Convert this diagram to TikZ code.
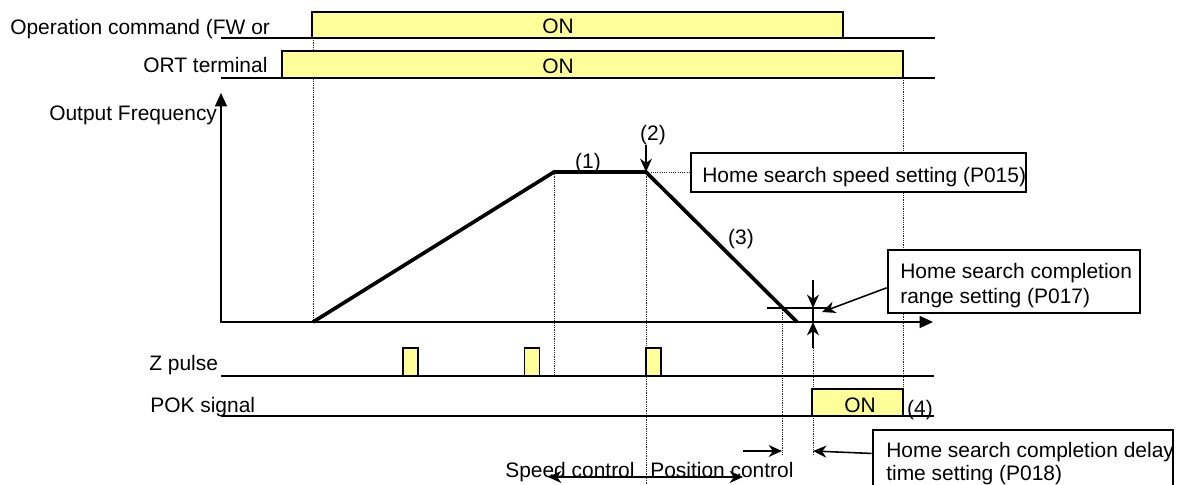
\documentclass[tikz,border=0pt]{standalone}
\usepackage{fontspec}
\setmainfont{Liberation Sans}
\usetikzlibrary{arrows.meta}
\definecolor{onyellow}{RGB}{255,255,153}
\tikzset{
 sigline/.style={line width=1.1pt},
 onbox/.style={draw=black, fill=onyellow, line width=1.1pt},
 guide/.style={line width=0.5pt, dash pattern=on 0.8pt off 0.8pt, draw=black!85},
 profile/.style={line width=2.6pt, line join=miter},
 axisline/.style={line width=1.1pt, {Triangle[length=9.5pt,width=8.5pt]}-{Triangle[length=9.5pt,width=8.5pt]}},
 setbox/.style={rectangle, draw=black, fill=white, line width=1.9pt, inner sep=0pt},
 markarrow/.style={line width=1.1pt, -{Stealth[length=9.5pt,width=8.5pt,inset=3pt]}},
 twoarrow/.style={line width=1.1pt, {Stealth[length=9.5pt,width=8.5pt,inset=3pt]}-{Stealth[length=9.5pt,width=8.5pt,inset=3pt]}},
 txt/.style={inner sep=0pt, anchor=base west},
 ontxt/.style={inner sep=0pt, anchor=base}
}

\begin{document}
\begin{tikzpicture}[x=0.025cm, y=-0.025cm, font=\fontsize{14.9pt}{17pt}\selectfont]
	\useasboundingbox (0,0) rectangle (1179,485);
	\clip (0,0) rectangle (1179,485);

	\coordinate (p0) at (313,322);
	\coordinate (p1) at (554,172);
	\coordinate (p2) at (646,172);
	\coordinate (p3) at (797,322);

	\draw[guide] (313,38) -- (p0);
	\draw[guide] (p1) -- (554,376);
	\draw[guide] (p2) -- (646,485);
	\draw[guide] (782,308) -- (782,456);
	\draw[guide] (813,348) -- (813,456);
	\draw[guide] (903,78) -- (903,389);
	\draw[guide] (p2) -- (691,172);

	\filldraw[onbox] (312,38) |- (843,12) -- (843,38);
	\filldraw[onbox] (282,78) |- (903,51) -- (903,78);
	\filldraw[onbox] (403,376) |- (418,348) -- (418,376);
	\filldraw[onbox] (524.5,376) |- (539.5,348) -- (539.5,376);
	\filldraw[onbox] (646,376) |- (661,348) -- (661,376);
	\filldraw[onbox] (812,416) |- (903,389) -- (903,416);

	\draw[sigline] (221,38) -- (935,38);
	\draw[sigline] (221,78) -- (935,78);
	\draw[sigline] (221,376) -- (934,376);
	\draw[sigline] (221,416) -- (934,416);

	\draw[axisline] (221,93) -- (221,322) -- (933,322);
	\draw[profile] (p0) -- (p1) -- (p2) -- (p3);

	\coordinate (peak) at (646,145);
	\draw[markarrow] (peak) -- (p2);

	\coordinate (tolL) at (767,308);
	\coordinate (tolR) at (828,308);
	\coordinate (tolT) at (813,280);
	\coordinate (tolB) at (813,348);
	\coordinate (tolA) at (813,308);
	\coordinate (tolZ) at (813,322);
	\draw[sigline] (tolL) -- (tolR);
	\draw[sigline] (tolA) -- (tolZ);
	\draw[markarrow] (tolT) -- (tolA);
	\draw[markarrow] (tolB) -- (tolZ);

	\node[setbox, minimum width=8.375cm, minimum height=0.975cm] (speedbox) at (858.5,172.5) {};
	\node[setbox, minimum width=6.3cm, minimum height=1.575cm] (rangebox) at (1014,281.5) {};
	\node[setbox, minimum width=7.5cm, minimum height=1.875cm] (delaybox) at (1023,467.5) {};

	\coordinate (tolhit) at (822,312);
	\draw[markarrow] ([yshift=-4.5pt]rangebox.west) -- (tolhit);

	\coordinate (dlyL) at (743,451);
	\coordinate (dlyA) at (782,451);
	\coordinate (dlyB) at (813,451);
	\draw[markarrow] (dlyL) -- (dlyA);
	\draw[markarrow] ([yshift=10pt]delaybox.west) -- (dlyB);

	\coordinate (ctlL) at (548,477);
	\coordinate (ctlR) at (743,477);
	\draw[twoarrow] (ctlL) -- (ctlR);

	\node[txt] (opcmd) at (10,34.5) {Operation command (FW or};
	\node[txt] (ort) at (143,73) {ORT terminal};
	\node[txt] (freq) at (49,120.5) {Output Frequency};
	\node[txt] (zpulse) at (149,370) {Z pulse};
	\node[txt] (pok) at (150,412) {POK signal};

	\node[ontxt] (opon) at (558,34) {ON};
	\node[ontxt] (orton) at (558,74) {ON};
	\node[ontxt] (pokon) at (860,412) {ON};

	\node[ontxt] (st1) at (588,169) {(1)};
	\node[ontxt] (st2) at (653,141) {(2)};
	\node[ontxt] (st3) at (741,245) {(3)};
	\node[ontxt] (st4) at (920,415) {(4)};

	\node[txt] (speedtxt) at (702,183) {Home search speed setting (P015)};
	\node[txt] (rangetxt1) at (900,279) {Home search completion};
	\node[txt] (rangetxt2) at (900,303) {range setting (P017)};
	\node[txt] (delaytxt1) at (886,457) {Home search completion delay};
	\node[txt] (delaytxt2) at (886,480.5) {time setting (P018)};

	\node[txt] (spdctl) at (505,477) {Speed control};
	\node[txt] (posctl) at (650,477) {Position control};
\end{tikzpicture}
\end{document}
